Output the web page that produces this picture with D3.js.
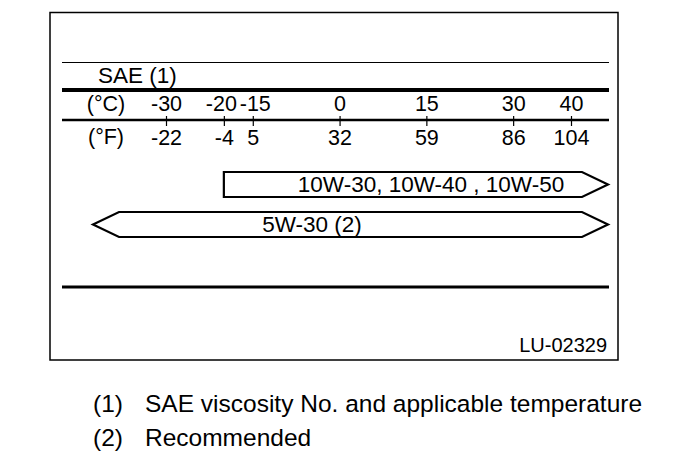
<!DOCTYPE html>
<html>
<head>
<meta charset="utf-8">
<script src="https://cdn.jsdelivr.net/npm/d3@7"></script>
<style>
  body { margin: 0; background: #fff; }
  svg { display: block; font-family: "Liberation Sans", Arial, sans-serif; }
  text { fill: #000; }
</style>
</head>
<body>
<svg id="chart" width="688" height="472"></svg>
<script>
// tick labels
const celsius = [-30, -20, -15, 0, 15, 30, 40];
const fahrenheit = [-22, -4, 5, 32, 59, 86, 104];

// recommended viscosity ranges, in °C (null = open ended arrow)
const grades = ["10W-30, 10W-40 , 10W-50", "5W-30 (2)"];
const gradeFrom = [-20, null];
const gradeTo = [null, null];

const notes = ["(1)", "(2)"];
const noteText = ["SAE viscosity No. and applicable temperature", "Recommended"];

const svg = d3.select("#chart");

const lineLeft = 62, lineRight = 609;
const x = d3.scaleLinear().domain([-30, 40]).range([166, 571]);

// frame
svg.append("rect")
  .attr("x", 50).attr("y", 12.5)
  .attr("width", 568).attr("height", 347.5)
  .attr("fill", "none").attr("stroke", "#000").attr("stroke-width", 1.5);

const hline = (y, w) => svg.append("line")
  .attr("x1", lineLeft).attr("x2", lineRight)
  .attr("y1", y).attr("y2", y)
  .attr("stroke", "#000").attr("stroke-width", w);

hline(62.5, 1);
hline(90, 4);
hline(120, 2.5);
hline(287, 3);

svg.append("text")
  .attr("x", 98).attr("y", 83)
  .attr("font-size", 22.5)
  .text("SAE (1)");

// axes: °C above the line, °F below
const axC = svg.append("g")
  .attr("transform", "translate(0,120)")
  .call(d3.axisTop(x).tickValues(celsius).tickSize(4).tickPadding(5)
    .tickFormat(d => d));
const axF = svg.append("g")
  .attr("transform", "translate(0,120)")
  .call(d3.axisBottom(x).tickValues(celsius).tickSize(6).tickPadding(4)
    .tickFormat((d, i) => fahrenheit[i]));
[axC, axF].forEach(g => {
  g.select(".domain").remove();
  g.attr("font-family", null).attr("font-size", 21.5);
  g.selectAll(".tick line").attr("stroke", "#000").attr("stroke-width", 1.2);
  g.selectAll(".tick text").attr("fill", "#000");
});
// keep -20 and -15 apart, the way the original spaces them
axC.selectAll(".tick text")
  .attr("dx", d => d === -20 ? -3 : d === -15 ? 2 : 0);

svg.append("text").attr("x", 106).attr("y", 111)
  .attr("text-anchor", "middle").attr("font-size", 21.5).text("(°C)");
svg.append("text").attr("x", 106).attr("y", 144)
  .attr("text-anchor", "middle").attr("font-size", 21.5).text("(°F)");

// range arrows
const barTop = [172, 212], barH = 25;
const openLeft = 119, openRight = 582, tipLen = 26;
const textX = [431, 312];

grades.forEach((g, i) => {
  const y0 = barTop[i], y1 = y0 + barH, ym = (y0 + y1) / 2;
  const xl = gradeFrom[i] == null ? openLeft : x(gradeFrom[i]);
  const xr = gradeTo[i] == null ? openRight : x(gradeTo[i]);
  const p = d3.path();
  p.moveTo(xl, y0);
  p.lineTo(xr, y0);
  if (gradeTo[i] == null) p.lineTo(xr + tipLen, ym);
  p.lineTo(xr, y1);
  p.lineTo(xl, y1);
  if (gradeFrom[i] == null) p.lineTo(xl - tipLen, ym);
  p.closePath();
  svg.append("path").attr("d", p.toString())
    .attr("fill", "#fff").attr("stroke", "#000").attr("stroke-width", 2.2)
    .attr("stroke-linejoin", "miter");
  svg.append("text")
    .attr("x", textX[i]).attr("y", y0 + 20)
    .attr("text-anchor", "middle").attr("font-size", 22.5)
    .text(g);
});

svg.append("text")
  .attr("x", 607).attr("y", 352)
  .attr("text-anchor", "end").attr("font-size", 20)
  .text("LU-02329");

// notes below the frame
notes.forEach((n, i) => {
  const y = 412 + i * 34;
  svg.append("text").attr("x", 93).attr("y", y).attr("font-size", 24.5).text(n);
  svg.append("text").attr("x", 145).attr("y", y).attr("font-size", 24.5).text(noteText[i]);
});
</script>
</body>
</html>
